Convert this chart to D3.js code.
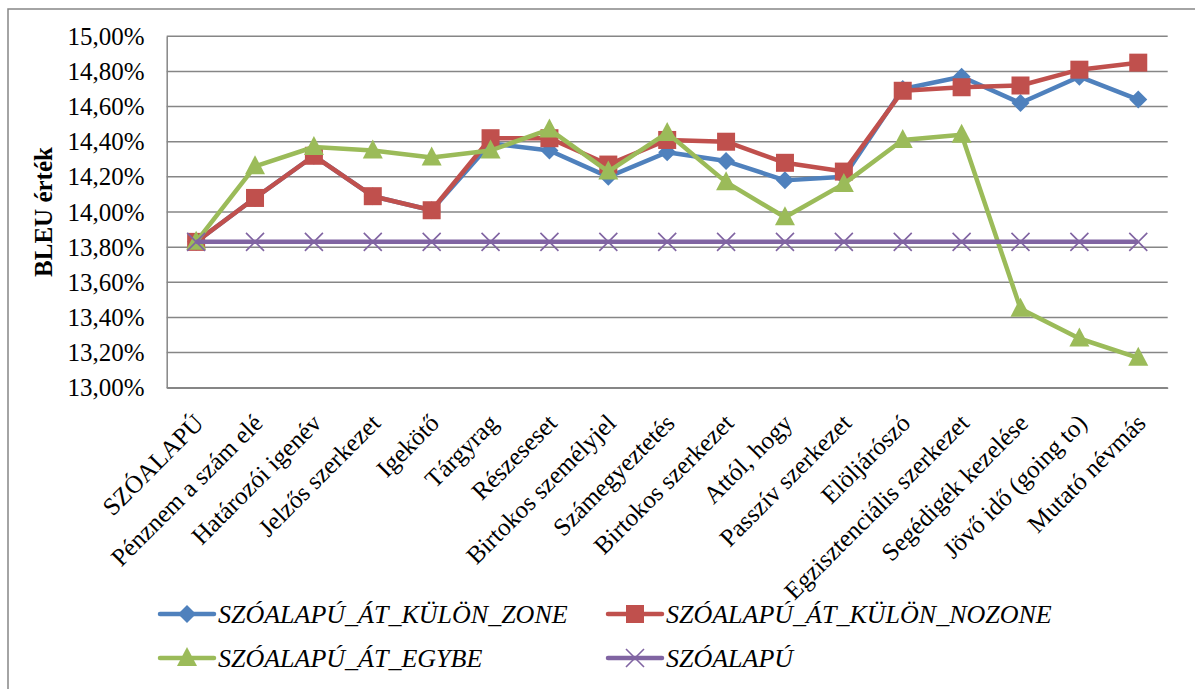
<!DOCTYPE html>
<html>
<head>
<meta charset="utf-8">
<script src="https://cdn.jsdelivr.net/npm/d3@7"></script>
<style>
  html, body { margin: 0; padding: 0; background: #fff; }
  svg { display: block; }
  svg text { font-family: "Liberation Serif", "Times New Roman", serif !important; fill: #000; }
</style>
</head>
<body>
<svg id="chart" width="1195" height="689"></svg>
<script>
const categories = ["SZÓALAPÚ", "Pénznem a szám elé", "Határozói igenév", "Jelzős szerkezet", "Igekötő", "Tárgyrag", "Részeseset", "Birtokos személyjel", "Számegyeztetés", "Birtokos szerkezet", "Attól, hogy", "Passzív szerkezet", "Elöljárószó", "Egzisztenciális szerkezet", "Segédigék kezelése", "Jövő idő (going to)", "Mutató névmás"];

const zoneValues   = [13.83, 14.08, 14.32, 14.09, 14.01, 14.39, 14.35, 14.20, 14.34, 14.29, 14.18, 14.20, 14.70, 14.77, 14.62, 14.77, 14.64];
const nozoneValues = [13.83, 14.08, 14.32, 14.09, 14.01, 14.42, 14.42, 14.27, 14.41, 14.40, 14.28, 14.23, 14.69, 14.71, 14.72, 14.81, 14.85];
const egybeValues  = [13.83, 14.26, 14.37, 14.35, 14.31, 14.35, 14.47, 14.23, 14.45, 14.17, 13.97, 14.16, 14.41, 14.44, 13.45, 13.28, 13.17];
const baseValues   = [13.83, 13.83, 13.83, 13.83, 13.83, 13.83, 13.83, 13.83, 13.83, 13.83, 13.83, 13.83, 13.83, 13.83, 13.83, 13.83, 13.83];

const seriesNames = ["SZÓALAPÚ_ÁT_KÜLÖN_ZONE", "SZÓALAPÚ_ÁT_KÜLÖN_NOZONE", "SZÓALAPÚ_ÁT_EGYBE", "SZÓALAPÚ"];
const tickValues = [13.0, 13.2, 13.4, 13.6, 13.8, 14.0, 14.2, 14.4, 14.6, 14.8, 15.0];
const tickLabels = ["13,00%", "13,20%", "13,40%", "13,60%", "13,80%", "14,00%", "14,20%", "14,40%", "14,60%", "14,80%", "15,00%"];
const yTitle = "BLEU érték";

const series = [
  { name: seriesNames[0], values: zoneValues,   color: "#4F81BD", marker: "diamond" },
  { name: seriesNames[1], values: nozoneValues, color: "#C0504D", marker: "square" },
  { name: seriesNames[2], values: egybeValues,  color: "#9BBB59", marker: "triangle" },
  { name: seriesNames[3], values: baseValues,   color: "#8064A2", marker: "x" }
];

const svg = d3.select("#chart");
const grid = "#868686";
const FONT = '"Liberation Serif", "Times New Roman", serif';

// outer frame
svg.append("rect").attr("x", 8).attr("y", 9).attr("width", 1200).attr("height", 700)
  .attr("fill", "none").attr("stroke", grid).attr("stroke-width", 1.5);

const L = 166.7, R = 1167.7, T = 36.3, B = 387.7;
const x = d3.scaleBand().domain(categories).range([L, R]).padding(0);
const y = d3.scaleLinear().domain([13, 15]).range([B, T]);
const cx = c => x(c) + x.bandwidth() / 2;

// gridlines
svg.append("g").selectAll("line").data(tickValues).join("line")
  .attr("x1", L).attr("x2", R)
  .attr("y1", d => y(d)).attr("y2", d => y(d))
  .attr("stroke", grid).attr("stroke-width", 1.5);

// y axis
const yAxis = d3.axisLeft(y).tickValues(tickValues).tickSize(0).tickPadding(22)
  .tickFormat((d, i) => tickLabels[i]);
const gy = svg.append("g").attr("transform", `translate(${L},0)`).call(yAxis)
  .attr("font-family", FONT);
gy.select(".domain").attr("stroke", grid).attr("stroke-width", 1.5);
gy.selectAll("text").style("font-size", "25px").style("font-family", FONT);

// x axis
const xAxis = d3.axisBottom(x).tickSize(0).tickPadding(0);
const gx = svg.append("g").attr("transform", `translate(0,${B})`).call(xAxis)
  .attr("font-family", FONT);
gx.select(".domain").attr("stroke", grid).attr("stroke-width", 1.5);
gx.selectAll("text")
  .style("font-size", "25px").style("font-family", FONT)
  .attr("text-anchor", "end").attr("dy", null).attr("y", 0)
  .attr("transform", "translate(9,37) rotate(-45)");

// y title
svg.append("text").attr("transform", `translate(52,${(T + B) / 2}) rotate(-90)`)
  .attr("text-anchor", "middle").style("font-size", "25px").attr("font-weight", "bold")
  .text(yTitle);

// markers
function drawMarker(g, type, color, px, py) {
  if (type === "diamond") {
    g.append("path").attr("d", `M${px},${py - 9}L${px + 9},${py}L${px},${py + 9}L${px - 9},${py}Z`)
      .attr("fill", color);
  } else if (type === "square") {
    g.append("rect").attr("x", px - 9).attr("y", py - 9).attr("width", 18).attr("height", 18)
      .attr("fill", color);
  } else if (type === "triangle") {
    g.append("path").attr("d", `M${px},${py - 11}L${px + 10},${py + 8}L${px - 10},${py + 8}Z`)
      .attr("fill", color);
  } else if (type === "x") {
    g.append("path").attr("d", `M${px - 9},${py - 9}L${px + 9},${py + 9}M${px + 9},${py - 9}L${px - 9},${py + 9}`)
      .attr("stroke", color).attr("stroke-width", 1.6).attr("fill", "none");
  }
}

const line = d3.line().x((d, i) => cx(categories[i])).y(d => y(d));
series.forEach(s => {
  const g = svg.append("g");
  g.append("path").datum(s.values).attr("d", line)
    .attr("fill", "none").attr("stroke", s.color).attr("stroke-width", 4.5)
    .attr("stroke-linejoin", "round");
  s.values.forEach((v, i) => drawMarker(g, s.marker, s.color, cx(categories[i]), y(v)));
});

// legend
const legendPos = [[160, 614], [608, 614], [160, 658], [608, 658]];
series.forEach((s, i) => {
  const [lx, ly] = legendPos[i];
  const g = svg.append("g");
  g.append("line").attr("x1", lx).attr("x2", lx + 54).attr("y1", ly).attr("y2", ly)
    .attr("stroke", s.color).attr("stroke-width", 4.5).attr("stroke-linecap", "round");
  drawMarker(g, s.marker, s.color, lx + 27, ly);
  g.append("text").attr("x", lx + 58).attr("y", ly + 9)
    .style("font-size", "26px").attr("font-style", "italic").text(s.name);
});
</script>
</body>
</html>
